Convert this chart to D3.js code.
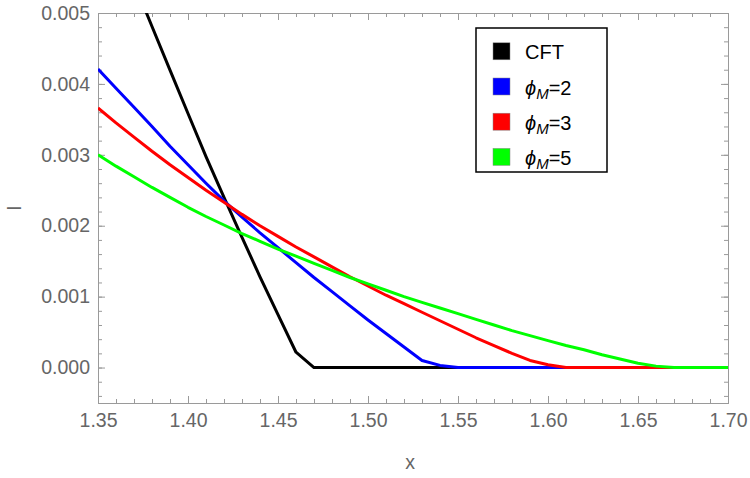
<!DOCTYPE html>
<html>
<head>
<meta charset="utf-8">
<script src="https://cdn.jsdelivr.net/npm/d3@7"></script>
<style>
body { margin: 0; background: #fff; }
svg { font-family: "Liberation Sans", Arial, sans-serif; }
.axis path.domain { stroke: #9a9a9a; stroke-width: 1; }
.axis line { stroke: #9a9a9a; }
.axis text { fill: #666; font-size: 19.5px; font-family: "Liberation Sans", Arial, sans-serif; }
.series { fill: none; stroke-width: 3; stroke-linejoin: round; }
</style>
</head>
<body>
<div id="chart"></div>
<script>
// values
var xCft = [1.37, 1.38, 1.39, 1.40, 1.41, 1.42, 1.43, 1.44, 1.45, 1.46, 1.47, 1.70];
var iCft = [0.00543, 0.00481, 0.004195, 0.003582, 0.002975, 0.00240, 0.001836, 0.001280, 0.000745, 0.000216, 0, 0];

var xPhi2 = [1.35, 1.36, 1.37, 1.38, 1.39, 1.40, 1.41, 1.42, 1.43, 1.44, 1.45, 1.46, 1.47, 1.48, 1.49, 1.50, 1.51, 1.52, 1.53, 1.54, 1.55, 1.70];
var iPhi2 = [0.00421, 0.00394, 0.00367, 0.00340, 0.00312, 0.00286, 0.00260, 0.00235, 0.00212, 0.00190, 0.00169, 0.00148, 0.00127, 0.00107, 0.00087, 0.00067, 0.00048, 0.00029, 0.00010, 0.00003, 0, 0];

var xPhi3 = [1.35, 1.36, 1.37, 1.38, 1.39, 1.40, 1.41, 1.42, 1.43, 1.44, 1.45, 1.46, 1.47, 1.48, 1.49, 1.50, 1.51, 1.52, 1.53, 1.54, 1.55, 1.56, 1.57, 1.58, 1.59, 1.60, 1.61, 1.70];
var iPhi3 = [0.00366, 0.00345, 0.00325, 0.00305, 0.00286, 0.00268, 0.00250, 0.00233, 0.00216, 0.00200, 0.00185, 0.00170, 0.00156, 0.00142, 0.00128, 0.00115, 0.00102, 0.00090, 0.00078, 0.00066, 0.00054, 0.00042, 0.00031, 0.00020, 0.00010, 0.00004, 0, 0];

var xPhi5 = [1.35, 1.36, 1.37, 1.38, 1.39, 1.40, 1.41, 1.42, 1.43, 1.44, 1.45, 1.46, 1.47, 1.48, 1.49, 1.50, 1.51, 1.52, 1.53, 1.54, 1.55, 1.56, 1.57, 1.58, 1.59, 1.60, 1.61, 1.62, 1.63, 1.64, 1.65, 1.66, 1.67, 1.70];
var iPhi5 = [0.00300, 0.00284, 0.00269, 0.00254, 0.00240, 0.00226, 0.00213, 0.00201, 0.00189, 0.00178, 0.00167, 0.00157, 0.00147, 0.00137, 0.00127, 0.00118, 0.00109, 0.00100, 0.00092, 0.00084, 0.00076, 0.00068, 0.00060, 0.00052, 0.00045, 0.00038, 0.00031, 0.00025, 0.00018, 0.00012, 0.00006, 0.00002, 0, 0];

var seriesColors = ["#000000", "#0000ff", "#ff0000", "#00ff00"];
var legendNames = ["CFT", "2", "3", "5"];

var xTicks = [1.35, 1.40, 1.45, 1.50, 1.55, 1.60, 1.65, 1.70];
var yTicks = [0, 0.001, 0.002, 0.003, 0.004, 0.005];

var margin = {top: 13, right: 22, bottom: 75, left: 98};
var viewWidth = 750;
var viewHeight = 478;
var width = viewWidth - margin.left - margin.right;
var height = viewHeight - margin.top - margin.bottom;

var x = d3.scaleLinear().domain([1.35, 1.70]).range([0, width]);
var y = d3.scaleLinear().domain([-0.0005, 0.005]).range([height, 0]);

var svg = d3.select("#chart").append("svg")
	.attr("width", viewWidth)
	.attr("height", viewHeight);

var g = svg.append("g")
	.attr("transform", "translate(" + margin.left + "," + margin.top + ")");

g.append("clipPath").attr("id", "clip")
	.append("rect")
	.attr("width", width)
	.attr("height", height);

var xMinor = d3.range(1.35, 1.7001, 0.01);
var yMinor = d3.range(-0.0004, 0.00501, 0.0002);

//minor ticks first, then the major ones with labels
g.append("g").attr("class", "axis")
	.attr("transform", "translate(0," + height + ")")
	.call(d3.axisBottom(x).tickValues(xMinor).tickSize(-4).tickFormat(""));
g.append("g").attr("class", "axis")
	.call(d3.axisTop(x).tickValues(xMinor).tickSize(-4).tickFormat(""));
g.append("g").attr("class", "axis")
	.call(d3.axisLeft(y).tickValues(yMinor).tickSize(-4).tickFormat(""));
g.append("g").attr("class", "axis")
	.attr("transform", "translate(" + width + ",0)")
	.call(d3.axisRight(y).tickValues(yMinor).tickSize(-4).tickFormat(""));

g.append("g").attr("class", "axis")
	.attr("transform", "translate(0," + height + ")")
	.call(d3.axisBottom(x).tickValues(xTicks).tickSize(-7).tickPadding(10).tickFormat(d3.format(".2f")))
	.selectAll("text").attr("dy", "0.71em");
g.append("g").attr("class", "axis")
	.call(d3.axisTop(x).tickValues(xTicks).tickSize(-7).tickFormat(""));
g.append("g").attr("class", "axis")
	.call(d3.axisLeft(y).tickValues(yTicks).tickSize(-7).tickPadding(8).tickFormat(d3.format(".3f")));
g.append("g").attr("class", "axis")
	.attr("transform", "translate(" + width + ",0)")
	.call(d3.axisRight(y).tickValues(yTicks).tickSize(-7).tickFormat(""));

var line = d3.line()
	.x(function(d) { return x(d[0]); })
	.y(function(d) { return y(d[1]); });

var series = [d3.zip(xCft, iCft), d3.zip(xPhi2, iPhi2), d3.zip(xPhi3, iPhi3), d3.zip(xPhi5, iPhi5)];

g.append("g").attr("clip-path", "url(#clip)")
	.selectAll("path")
	.data(series).enter()
		.append("path")
		.attr("class", "series")
		.attr("stroke", function(d, i) { return seriesColors[i]; })
		.attr("d", line);

//axis labels
svg.append("text")
	.attr("x", margin.left + width / 2 - 3)
	.attr("y", 469)
	.attr("text-anchor", "middle")
	.attr("fill", "#666")
	.style("font-size", "19.5px")
	.text("x");

svg.append("text")
	.attr("transform", "translate(21,208) rotate(-90)")
	.attr("text-anchor", "middle")
	.attr("fill", "#666")
	.style("font-size", "19.5px")
	.text("I");

//legend
var legend = svg.append("g").attr("transform", "translate(476,28)");
legend.append("rect")
	.attr("width", 131)
	.attr("height", 144)
	.attr("fill", "#fff")
	.attr("stroke", "#000")
	.attr("stroke-width", 1.5);

var rows = legend.selectAll(".row")
	.data(legendNames).enter()
		.append("g")
		.attr("class", "row")
		.attr("transform", function(d, i) { return "translate(0," + (23.3 + i * 35.2) + ")"; });

rows.append("rect")
	.attr("x", 17)
	.attr("y", -8.5)
	.attr("width", 17)
	.attr("height", 17)
	.attr("fill", function(d, i) { return seriesColors[i]; })
	.attr("stroke", "#888")
	.attr("stroke-width", 0.5);

rows.each(function(d, i) {
	var t = d3.select(this).append("text")
		.attr("x", 49)
		.attr("y", 8)
		.attr("fill", "#000")
		.style("font-size", "20px");
	if (i == 0) {
		t.text(d);
	} else {
		t.append("tspan").style("font-style", "italic").text("\u03d5");
		t.append("tspan").style("font-style", "italic").style("font-size", "15px").attr("dy", 4).text("M");
		t.append("tspan").attr("dy", -4).text("=" + d);
	}
});
</script>
</body>
</html>
